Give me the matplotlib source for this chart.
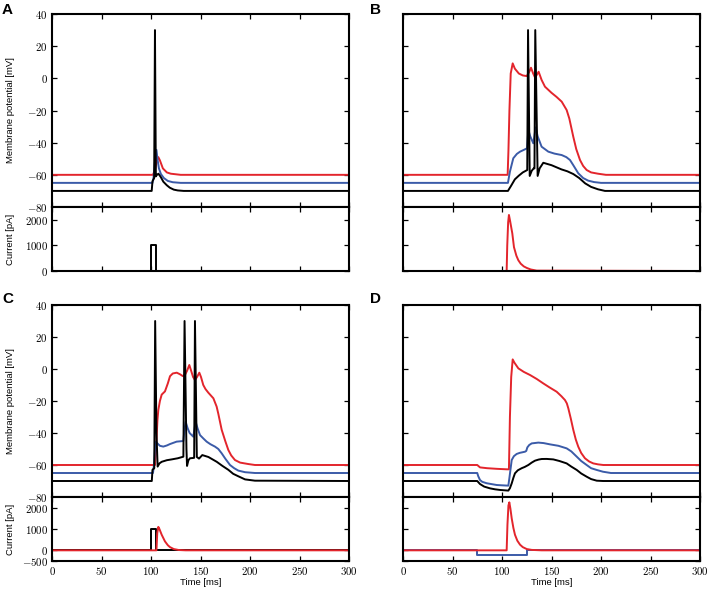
import matplotlib
matplotlib.use("Agg")
import matplotlib.pyplot as plt

# colours of the three traces
RED = '#e3252c'
BLUE = '#3b5ba8'
BLACK = 'black'

plt.rcParams['mathtext.fontset'] = 'cm'
plt.rcParams['font.family'] = ['Liberation Sans', 'DejaVu Sans']

# ---------------- data ----------------
# panel A, membrane potential [mV]
a_black_t = [0, 100.7, 101.5, 103.2, 104.0, 104.9, 106, 107.5, 110, 112.5, 116, 119, 123, 127, 133, 300]
a_black_v = [-70, -70, -64, -62, 30, -61, -60, -59.3, -61.5, -64.3, -66.5, -68, -69.2, -69.7, -70, -70]
a_blue_t = [0, 101.5, 102.5, 104, 105.5, 106.5, 108, 110, 113, 117, 122, 130, 300]
a_blue_v = [-65, -65, -62, -52, -44.5, -50, -56, -59.5, -62, -63.8, -64.6, -65, -65]
a_red_t = [0, 102, 104, 106, 107.4, 109, 112, 116, 120, 130, 300]
a_red_v = [-60, -60, -57, -51, -49, -51, -56, -58.5, -59.3, -60, -60]
# panel A, current [pA]
a_cur_black_t = [0, 100.5, 100.5, 105.5, 105.5, 300]
a_cur_black_v = [0, 0, 1000, 1000, 0, 0]

# panel B
b_black_t = [0, 106, 109, 113, 117, 121, 125.5, 126.3, 128.0, 130, 132, 132.8, 133.6, 136, 138, 141.7,
             150, 160, 166, 172, 178, 184, 190, 197, 204, 300]
b_black_v = [-70, -70, -67, -62.8, -60.5, -58.5, -57, 30, -60.7, -57.5, -56, -56, 30, -60.7, -56, -52.5,
             -54, -56.6, -57.8, -59.5, -62, -65.3, -67.5, -69, -70, -70]
b_blue_t = [0, 106, 108, 111.4, 115, 118.2, 122, 125.3, 126.6, 128.5, 131.6, 134, 136, 140, 146.8,
            153, 160.3, 165, 168.7, 172, 177, 182, 187, 193, 200, 300]
b_blue_v = [-65, -65, -58, -49.7, -47, -45.6, -44.5, -43.5, -32, -36, -40.4, -30.5, -36, -42.5, -45.6,
            -46.8, -47.7, -49, -50.8, -54, -59, -62, -63.6, -64.5, -65, -65]
b_red_t = [0, 105.7, 106.5, 107.5, 108.8, 110.8, 113, 117, 121, 125, 127.5, 129.3, 131.5, 133.3, 135,
           137, 140, 143.4, 150, 155, 160.3, 165.3, 168, 172, 175, 178.8, 182, 185.5, 190, 197, 205, 300]
b_red_v = [-60, -60, -45, -20, 3, 9.3, 6, 3, 1.8, 1.4, 4, 6.6, 3, 0.6, 2,
           4.1, -1, -5.2, -9, -11.5, -14.5, -19.7, -25, -36.3, -44, -50.8, -54.5, -57, -58.5, -59.3, -60, -60]
b_cur_red_t = [0, 104.7, 105.3, 106.2, 107, 108.2, 110.4, 112.1, 114.5, 116.5, 118.9, 122, 125, 129, 135, 300]
b_cur_red_v = [0, 0, 1000, 1900, 2190, 1950, 1470, 930, 600, 420, 286, 180, 120, 60, 15, 0]

# panel C
c_black_t = [0, 100.8, 101.5, 103.3, 104.2, 105.5, 106.7, 108.5, 110.8, 116, 120.9, 127, 132.7, 133.9,
             135.8, 136.4, 137.8, 139.4, 142.7, 143.6, 144.4, 146.3, 148.5, 151.8, 158, 166.4, 172,
             178.1, 183, 188, 195, 205, 300]
c_black_v = [-70, -70, -63, -62, 30, -40, -61, -59, -58, -57, -56.5, -55.8, -54.8, 30,
             -50, -60.6, -57, -55.8, -55.6, -55.5, 30, -55, -56, -53.8, -55, -58, -60.5,
             -63, -65.5, -67, -69, -69.8, -70]
c_blue_t = [0, 102, 103, 104, 105, 106.5, 109, 112.4, 116, 119.2, 125.9, 132.7, 133.8, 135, 137, 139,
            142.7, 145.1, 147, 149.5, 153, 156.2, 160, 164.6, 168, 171.4, 175, 179.8, 184, 188.2, 195, 205, 300]
c_blue_v = [-65, -65, -60, -50, -45.4, -46.5, -48, -48.5, -47.8, -46.9, -45.4, -45, -38, -33, -37, -40,
            -42.3, -33, -37, -41.3, -43.5, -45.4, -47, -48.5, -50, -52.7, -56, -60, -62, -63.5, -64.5, -65, -65]
c_red_t = [0, 104, 105.5, 106.5, 107.4, 109, 110.8, 114.1, 117, 119.2, 122, 126, 129.3, 132, 134.5,
           136.5, 138.7, 140.5, 142.5, 144.4, 146.5, 148.8, 150.5, 152.8, 155, 157.9, 163, 166.3, 168,
           171.4, 175, 178.1, 181, 184.8, 190, 198.3, 205, 300]
c_red_v = [-60, -60, -45, -32, -25.6, -20, -16, -14, -9, -4.5, -2.8, -2.3, -3.3, -4.4, -3.5,
           -1, 2.5, -1, -5, -6.9, -5, -2.3, -5, -10, -12.5, -14.8, -18.3, -23.5, -28,
           -38, -45, -50.6, -54, -56.9, -58.5, -59.4, -60, -60]
c_cur_black_t = [0, 100.5, 100.5, 105.5, 105.5, 300]
c_cur_black_v = [0, 0, 1000, 1000, 0, 0]
c_cur_red_t = [0, 105.5, 106.3, 107.4, 108.5, 110.8, 114.1, 117, 119.2, 123, 128, 135, 300]
c_cur_red_v = [0, 0, 800, 1100, 1000, 730, 420, 240, 150, 60, 15, 0, 0]

# panel D
d_black_t = [0, 75, 77.8, 82, 87.9, 93, 98, 106.4, 108, 109.8, 111.5, 113.1, 116, 119.9, 123, 126.6,
             130, 133.3, 137, 140.1, 145, 151.8, 158, 165.3, 170, 175.5, 180, 185.5, 190, 195.7, 202, 300]
d_black_v = [-70, -70, -71.9, -73.5, -74.6, -75.2, -75.6, -76, -74.5, -71.5, -68, -65.2, -63.3, -62, -61.2, -60,
             -58.5, -57.3, -56.6, -56.25, -56.2, -56.5, -57.5, -59, -61, -63.1, -65.3, -67.3, -68.8, -69.8, -70, -70]
d_blue_t = [0, 75, 76, 77.8, 80, 84.5, 90, 94.6, 100, 106.4, 107.5, 109.8, 112, 114.8, 118, 123.2, 124.5,
            125.6, 127.5, 130, 136.7, 142, 148.5, 157, 165.3, 170, 175.5, 180, 185.5, 190, 195.7, 202, 210, 300]
d_blue_v = [-65, -65, -67, -69.4, -70.5, -71.4, -72, -72.5, -72.7, -72.9, -68, -56.9, -54.5, -53.1, -52.4, -51.7, -51.2,
            -49, -47.5, -46.5, -46, -46.3, -47.1, -48, -49.6, -51.5, -54.8, -57.5, -60, -62, -63.1, -64.2, -65, -65]
d_red_t = [0, 75, 77.8, 85, 95, 105, 107, 108, 109.3, 110.8, 112.5, 116.5, 122, 128.3, 135, 141.7, 148,
           155.2, 160, 163.6, 165.5, 167, 169.5, 172, 174.5, 177, 180, 183.8, 188, 192.2, 197, 202.3, 300]
d_red_v = [-60, -60, -61.5, -62, -62.4, -62.7, -62.7, -30, -5, 6, 4, 0.4, -1.8, -3.75, -6.2, -9, -11.5,
           -14.2, -17, -19.4, -21.5, -24.6, -31, -38, -44, -48.5, -52.5, -55.8, -57.8, -59, -59.6, -60, -60]
d_cur_blue_t = [0, 75, 75, 125.5, 125.5, 300]
d_cur_blue_v = [0, 0, -200, -200, 0, 0]
d_cur_red_t = [0, 104.7, 105.5, 106.5, 107.4, 108.5, 109.8, 111.5, 113.1, 115.5, 118.2, 121, 125, 130, 140, 300]
d_cur_red_v = [0, 0, 1200, 2100, 2250, 1950, 1500, 1050, 730, 450, 265, 150, 60, 20, 0, 0]

# ticks
time_ticks = [0, 50, 100, 150, 200, 250, 300]
vm_ticks = [-80, -60, -40, -20, 0, 20, 40]
cur_ticks_pos = [0, 1000, 2000]
cur_ticks_neg = [-500, 0, 1000, 2000]

# ---------------- figure ----------------
W, H = 708, 590
fig = plt.figure(figsize=(W / 100, H / 100), dpi=100)

# pixel boxes of the panels: left, right, top, boundary, bottom
boxes = {
    'A': (52, 349, 14, 207, 271),
    'B': (403, 700, 14, 207, 271),
    'C': (52, 349, 305, 497, 561),
    'D': (403, 700, 305, 497, 561),
}


def style(ax):
    for s in ax.spines.values():
        s.set_linewidth(1.5)
    ax.tick_params(direction='in', top=True, right=True, length=3.5, width=0.9,
                   labelsize=7.8, pad=3)
    ax.set_xlim(0, 300)
    ax.set_xticks(time_ticks)


def mathlabels(vals):
    return [r'$%d$' % v for v in vals]


axes = {}
for name, (l, r, t, m, b) in boxes.items():
    ax_v = fig.add_axes([l / W, 1 - m / H, (r - l) / W, (m - t) / H])
    ax_i = fig.add_axes([l / W, 1 - b / H, (r - l) / W, (b - m) / H])
    style(ax_v)
    style(ax_i)
    ax_v.set_ylim(-80, 40)
    ax_v.set_yticks(vm_ticks)
    ax_v.set_xticklabels([])
    axes[name] = (ax_v, ax_i)

# membrane traces
lw = 1.4
traces = {
    'A': [(a_black_t, a_black_v, BLACK), (a_blue_t, a_blue_v, BLUE), (a_red_t, a_red_v, RED)],
    'B': [(b_black_t, b_black_v, BLACK), (b_blue_t, b_blue_v, BLUE), (b_red_t, b_red_v, RED)],
    'C': [(c_black_t, c_black_v, BLACK), (c_blue_t, c_blue_v, BLUE), (c_red_t, c_red_v, RED)],
    'D': [(d_black_t, d_black_v, BLACK), (d_blue_t, d_blue_v, BLUE), (d_red_t, d_red_v, RED)],
}
for name, lst in traces.items():
    ax_v = axes[name][0]
    # red and blue first, black spikes stay on top
    for t, v, c in [lst[2], lst[1], lst[0]]:
        ax_v.plot(t, v, color=c, lw=lw)

currents = {
    'A': [(a_cur_black_t, a_cur_black_v, BLACK)],
    'B': [(b_cur_red_t, b_cur_red_v, RED)],
    'C': [(c_cur_black_t, c_cur_black_v, BLACK), (c_cur_red_t, c_cur_red_v, RED)],
    'D': [(d_cur_blue_t, d_cur_blue_v, BLUE), (d_cur_red_t, d_cur_red_v, RED)],
}
for name, lst in currents.items():
    ax_i = axes[name][1]
    for t, v, c in lst:
        ax_i.plot(t, v, color=c, lw=lw)

# y ranges and labels of the current axes
for name in 'AB':
    axes[name][1].set_ylim(0, 2500)
    axes[name][1].set_yticks(cur_ticks_pos)
    axes[name][1].set_xticklabels([])
for name in 'CD':
    axes[name][1].set_ylim(-500, 2500)
    axes[name][1].set_yticks(cur_ticks_neg)

for name in 'AC':
    ax_v, ax_i = axes[name]
    ax_v.set_yticklabels(mathlabels(vm_ticks))
    ticks_i = cur_ticks_pos if name == 'A' else cur_ticks_neg
    ax_i.set_yticklabels(mathlabels(ticks_i))
    ax_v.set_ylabel('Membrane potential [mV]', fontsize=6.8)
    ax_i.set_ylabel('Current [pA]', fontsize=6.8)
    ax_v.yaxis.set_label_coords(-0.125, 0.5)
    ax_i.yaxis.set_label_coords(-0.125, 0.5)
for name in 'BD':
    ax_v, ax_i = axes[name]
    ax_v.set_yticklabels([])
    ax_i.set_yticklabels([])

for name in 'CD':
    ax_i = axes[name][1]
    ax_i.set_xticklabels(mathlabels(time_ticks))
    ax_i.set_xlabel('Time [ms]', fontsize=6.8)
    ax_i.xaxis.set_label_coords(0.5, -0.27)

# panel letters
for name, (x, y) in {'A': (2, 3), 'B': (370, 3), 'C': (2, 292), 'D': (370, 292)}.items():
    fig.text(x / W, 1 - y / H, name, fontsize=11, fontweight='bold', va='top', ha='left')

fig.savefig('out.png', dpi=100)
